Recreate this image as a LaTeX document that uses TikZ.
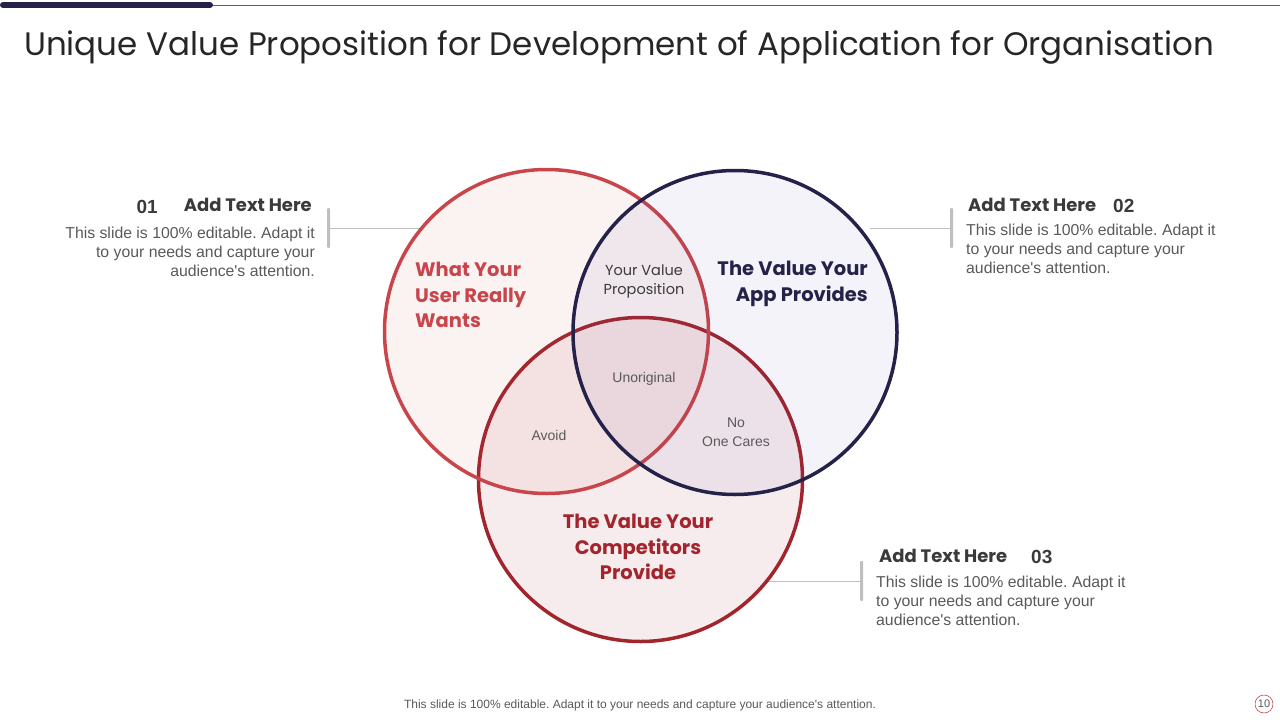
\documentclass[tikz,border=0pt]{standalone}
\usepackage{fontspec}
\setmainfont{Liberation Sans}[Ligatures=TeXOff]
\newfontfamily\heading{Poppins}
\frenchspacing
\newcommand\aps{'}
\definecolor{cred}{HTML}{C8454C}
\definecolor{cnavy}{HTML}{25224A}
\definecolor{cnavyfill}{HTML}{3B3B9A}
\definecolor{cdred}{HTML}{A2252D}
\definecolor{ctext}{HTML}{595959}
\definecolor{cdark}{HTML}{3A3A3A}
\definecolor{cbar}{HTML}{BFBFBF}
\tikzset{
  venn/.style={circle, draw, inner sep=0pt, minimum size=324pt, line width=3.5pt},
  body/.style={font=\fontsize{15.8}{19}\selectfont, text=ctext, inner sep=0pt},
  head/.style={font=\heading\bfseries\fontsize{18}{22}\selectfont, text=cdark, inner sep=0pt},
  num/.style={font=\bfseries\fontsize{19}{22}\selectfont, text=cdark, inner sep=0pt},
  bigl/.style={font=\heading\bfseries\fontsize{19.5}{25.5}\selectfont, inner sep=0pt},
  small/.style={font=\fontsize{14}{18.5}\selectfont, text=ctext, inner sep=0pt},
  vbar/.style={fill=cbar, rounded corners=1pt, minimum width=3pt, minimum height=40pt, inner sep=0pt},
  link/.style={draw=cbar, line width=1pt},
}
\begin{document}
\begin{tikzpicture}[x=1pt,y=-1pt]
\useasboundingbox (0,0) rectangle (1280,720);
% top bar
\coordinate (t0) at (3,5);
\coordinate (t1) at (210,5);
\coordinate (t2) at (1280,5);
\draw[cred!85!black, line width=1pt] (t1) -- (t2);
\draw[cnavy, line width=6pt, line cap=round] (t0) -- (t1);
% title
\node[anchor=base west, inner sep=0pt, font=\heading\fontsize{32.5}{36}\selectfont, text=black!85] (title) at (24,55)
  {Unique Value Proposition for Development of Application for Organisation};

% connector bars and link coordinates
\node[vbar] (b1) at (328.5,228) {};
\node[vbar] (b2) at (951.5,228) {};
\node[vbar] (b3) at (861.5,581) {};
\coordinate (e1) at (420,228);
\coordinate (e2) at (870,228);
\coordinate (e3) at (765,581);
\draw[link] (b1) -- (e1);
\draw[link] (b2) -- (e2);
\draw[link] (b3) -- (e3);

% circles
\node[venn, draw=cdred, fill=cdred, fill opacity=0.085] (c3) at (640.5,479.5) {};
\node[venn, draw=cred, fill=cred, fill opacity=0.07] (c1) at (546.5,331.5) {};
\node[venn, draw=cnavy, fill=cnavyfill, fill opacity=0.06] (c2) at (735,332.5) {};

% circle labels
\node[bigl, text=cred, align=left, anchor=west] (l1) at (415,295) {What Your\\User Really\\Wants};
\node[bigl, text=cnavy, align=right, anchor=east] (l2) at (868,284) {The Value Your\\App Provides};
\node[bigl, text=cdred, align=center] (l3) at (638,547) {The Value Your\\Competitors\\Provide};
\node[font=\heading\fontsize{14.5}{19}\selectfont, text=cdark, inner sep=0pt, align=center] (l12) at (644,282) {Your Value\\Proposition};
\node[small] (l123) at (644,379) {Unoriginal};
\node[small] (l13) at (549,435) {Avoid};
\node[small, align=center] (l23) at (736,432) {No\\One Cares};

% text block 1
\node[head, anchor=base east] (h1) at (312,211) {Add Text Here};
\node[num, anchor=base east] (n1) at (158,213) {01};
\node[body, align=right, anchor=north east] (t1b) at (315,227) {This slide is 100\% editable. Adapt it\\to your needs and capture your\\audience\aps s attention.};
% text block 2
\node[head, anchor=base west] (h2) at (968,211) {Add Text Here};
\node[num, anchor=base west] (n2) at (1113,212) {02};
\node[body, align=left, anchor=north west] (t2b) at (966,224) {This slide is 100\% editable. Adapt it\\to your needs and capture your\\audience\aps s attention.};
% text block 3
\node[head, anchor=base west] (h3) at (879,562) {Add Text Here};
\node[num, anchor=base west] (n3) at (1031,563) {03};
\node[body, align=left, anchor=north west] (t3b) at (876,576) {This slide is 100\% editable. Adapt it\\to your needs and capture your\\audience\aps s attention.};

% footer
\node[font=\fontsize{12}{14}\selectfont, text=ctext, inner sep=0pt] (foot) at (640,705) {This slide is 100\% editable. Adapt it to your needs and capture your audience\aps s attention.};
\node[circle, draw=cred, line width=0.6pt, minimum size=18pt, inner sep=0pt, font=\fontsize{11}{13}\selectfont, text=ctext] (pg) at (1264,704) {10};
\end{tikzpicture}
\end{document}
